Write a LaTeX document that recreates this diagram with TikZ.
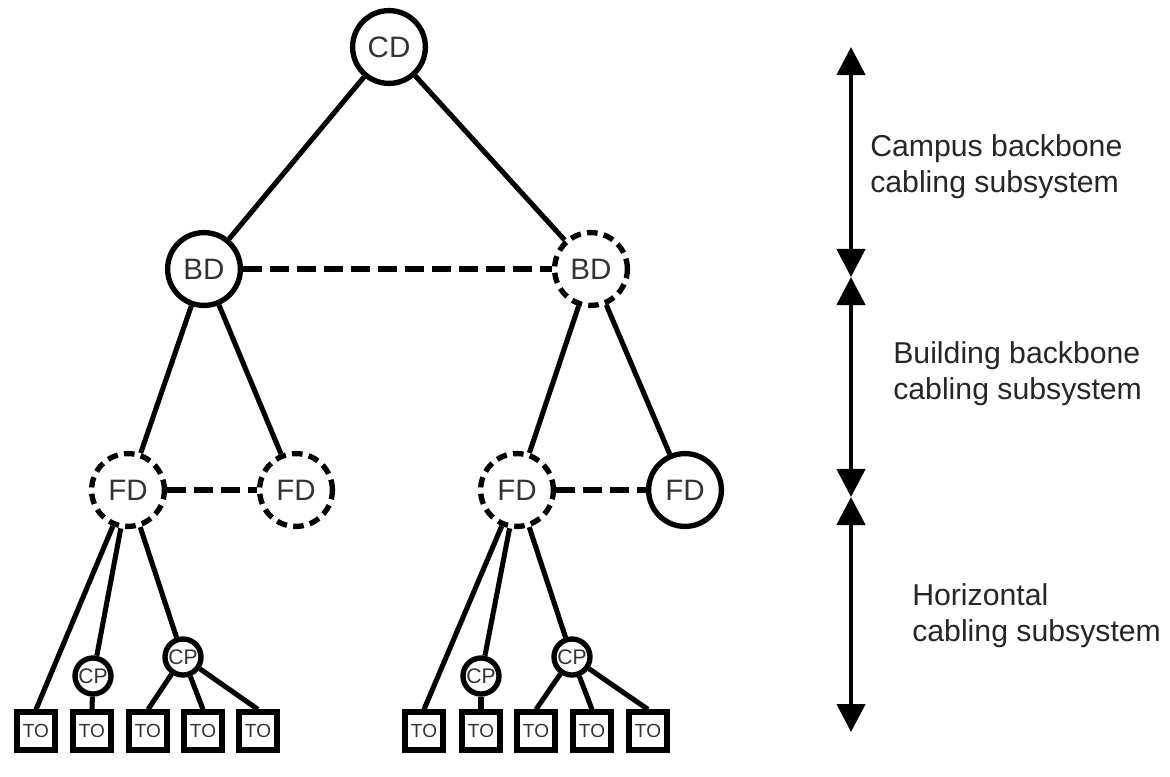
\documentclass[tikz,border=0pt]{standalone}
\usepackage{fontspec}
\setmainfont{Liberation Sans}
\usetikzlibrary{arrows.meta}

\tikzset{
  distnode/.style={circle, draw, line width=3.8pt, minimum size=1.82cm, inner sep=0pt,
    text=black!80, font=\fontsize{21}{25}\selectfont},
  distdashed/.style={distnode, dash pattern=on 7.5pt off 4.5pt},
  cpnode/.style={circle, draw, line width=3.8pt, minimum size=0.9cm, inner sep=0pt,
    text=black!80, font=\fontsize{15}{18}\selectfont},
  tonode/.style={rectangle, draw, line width=4.2pt, minimum size=0.93cm, inner sep=0pt,
    text=black!80, font=\fontsize{13.5}{16}\selectfont},
  link/.style={line width=3.6pt},
  dlink/.style={line width=4.6pt, dash pattern=on 13.5pt off 5.7pt},
  span/.style={line width=3.2pt, {Triangle[width=0.7cm,length=0.7cm]}-{Triangle[width=0.7cm,length=0.7cm]}},
  legend/.style={align=left, anchor=west, inner sep=0pt, text=black!85,
    font=\fontsize{21.5}{25.6}\selectfont}
}

\begin{document}
\begin{tikzpicture}[x=0.025cm,y=-0.025cm]
        \useasboundingbox (0,0) rectangle (1170,776);

        % distributors
        \node[distnode] (cd) at (389,47) {CD};
        \node[distnode] (bda) at (204,269) {BD};
        \node[distdashed] (bdb) at (591,269) {BD};
        \node[distdashed] (fda) at (128,490) {FD};
        \node[distdashed] (fdb) at (296,490) {FD};
        \node[distdashed] (fdc) at (517,490) {FD};
        \node[distnode] (fdd) at (685,490) {FD};

        % consolidation points
        \node[cpnode] (cpa) at (93,676) {CP};
        \node[cpnode] (cpb) at (183,657) {CP};
        \node[cpnode] (cpc) at (481,676) {CP};
        \node[cpnode] (cpd) at (572,657) {CP};

        % telecommunications outlets
        \foreach \i/\x in {1/36,2/92,3/148,4/203,5/258}
            \node[tonode] (toa\i) at (\x,731) {TO};
        \foreach \i/\x in {1/424,2/481,3/536,4/592,5/648}
            \node[tonode] (tob\i) at (\x,731) {TO};

        % cabling
        \draw[link] (cd) -- (bda);
        \draw[link] (cd) -- (bdb);
        \draw[dlink] (bda) -- (bdb);
        \draw[link] (bda) -- (fda);
        \draw[link] (bda) -- (fdb);
        \draw[link] (bdb) -- (fdc);
        \draw[link] (bdb) -- (fdd);
        \draw[dlink] (fda) -- (fdb);
        \draw[dlink] (fdc) -- (fdd);

        \draw[link] (fda) -- (toa1.north);
        \draw[link] (fda) -- (cpa);
        \draw[link] (fda) -- (cpb);
        \draw[link] (cpa) -- (toa2.north);
        \foreach \i in {3,4,5}
            \draw[link] (cpb) -- (toa\i.north);

        \draw[link] (fdc) -- (tob1.north);
        \draw[link] (fdc) -- (cpc);
        \draw[link] (fdc) -- (cpd);
        \draw[link] (cpc) -- (tob2.north);
        \foreach \i in {3,4,5}
            \draw[link] (cpd) -- (tob\i.north);

        % subsystem spans
        \coordinate (atop) at (851,47);
        \coordinate (abd) at (851,277);
        \coordinate (afd) at (851,497);
        \coordinate (abot) at (851,732);
        \draw[span] (atop) -- (abd);
        \draw[span] (abd) -- (afd);
        \draw[span] (afd) -- (abot);

        \node[legend] (campus) at (870,167) {Campus backbone\\cabling subsystem};
        \node[legend] (building) at (893,374) {Building backbone\\cabling subsystem};
        \node[legend] (horiz) at (912,616) {Horizontal\\cabling subsystem};
\end{tikzpicture}
\end{document}
